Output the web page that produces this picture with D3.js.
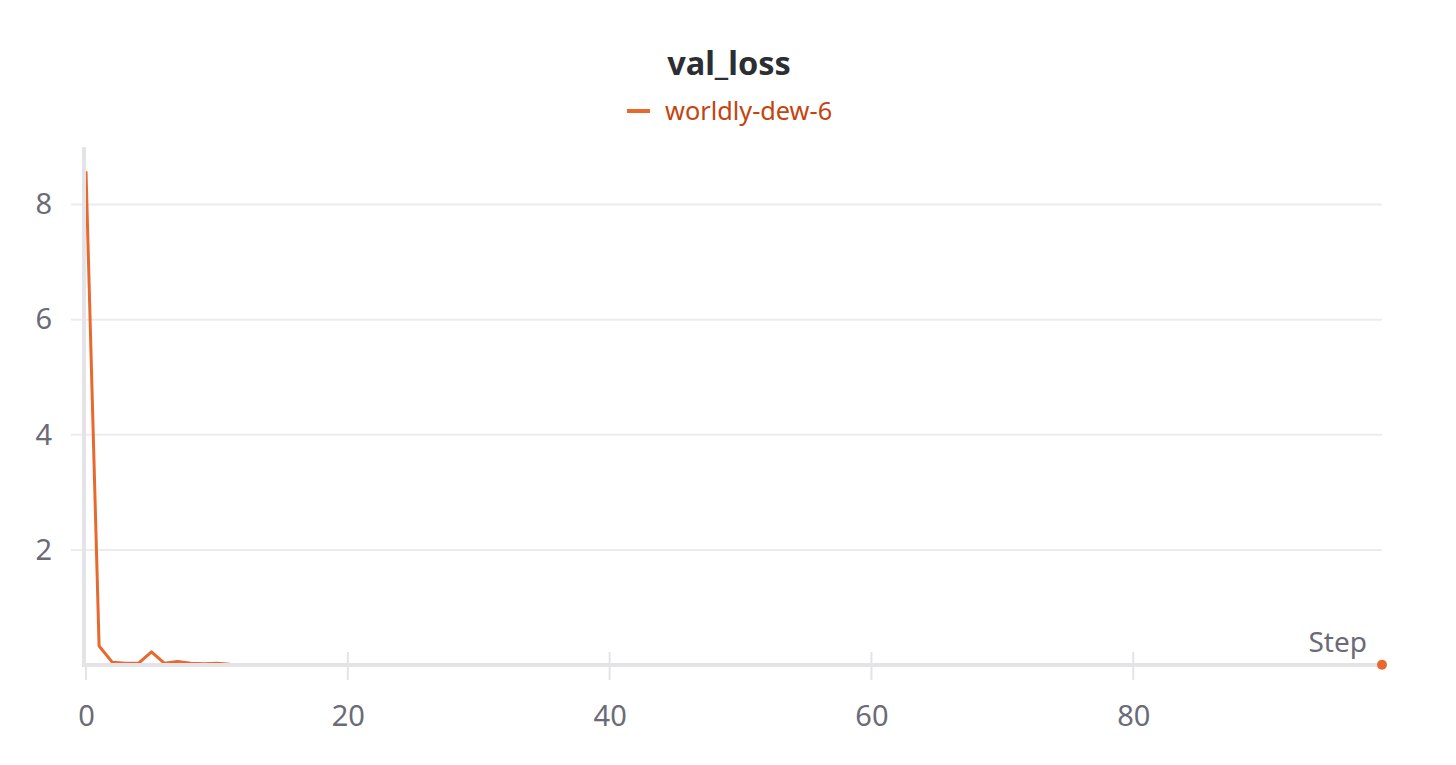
<!DOCTYPE html>
<html><head><meta charset="utf-8">
<script src="https://cdn.jsdelivr.net/npm/d3@7"></script>
<style>
html,body{margin:0;padding:0;background:#fff;}
svg{display:block;font-family:"Noto Sans","Lato",sans-serif;}
</style></head>
<body>
<svg id="chart" width="1456" height="765"></svg>
<script>
const title = "val_loss";
const seriesName = "worldly-dew-6";
const valLoss = [
 8.58, 0.33, 0.05, 0.03, 0.03, 0.23, 0.03, 0.06, 0.03, 0.02,
 0.03, 0.015, 0.008, 0.008, 0.007, 0.007, 0.007, 0.007, 0.006, 0.006,
 0.006, 0.006, 0.006, 0.006, 0.006, 0.006, 0.008, 0.005, 0.005, 0.005,
 0.005, 0.007, 0.005, 0.005, 0.005, 0.005, 0.005, 0.005, 0.005, 0.005,
 0.005, 0.005, 0.004, 0.004, 0.004, 0.004, 0.004, 0.004, 0.004, 0.004,
 0.004, 0.004, 0.004, 0.004, 0.004, 0.004, 0.004, 0.004, 0.004, 0.004,
 0.004, 0.004, 0.005, 0.004, 0.003, 0.003, 0.003, 0.004, 0.003, 0.003,
 0.003, 0.003, 0.003, 0.003, 0.003, 0.003, 0.003, 0.003, 0.003, 0.003,
 0.003, 0.003, 0.004, 0.003, 0.003, 0.003, 0.003, 0.003, 0.003, 0.003,
 0.003, 0.003, 0.003, 0.003, 0.003, 0.003, 0.003, 0.003, 0.003, 0.003
];
const xTicks = [0, 20, 40, 60, 80];
const yTicks = [2, 4, 6, 8];
const xAxisLabel = "Step";

const svg = d3.select("#chart");
const x = d3.scaleLinear().domain([0, 99]).range([86, 1382]);
const y = d3.scaleLinear().domain([0, 9]).range([665, 147]);
const lineColor = "#e8692d";
const axisColor = "#e4e4e8";
const gridColor = "#ececef";
const tickTextColor = "#6b6b78";
const fontFam = "'Noto Sans',Lato,sans-serif";

// title
svg.append("text").attr("x", 729).attr("y", 75).attr("text-anchor", "middle")
  .attr("font-size", 32.5).attr("font-weight", 700).attr("fill", "#2b2f33").text(title);
// legend
svg.append("line").attr("x1", 627).attr("x2", 650).attr("y1", 111).attr("y2", 111)
  .attr("stroke", lineColor).attr("stroke-width", 4);
svg.append("text").attr("x", 665).attr("y", 120).attr("font-size", 25.3)
  .attr("fill", "#c4440f").text(seriesName);

// y grid + ticks
const yAxis = d3.axisLeft(y).tickValues(yTicks).tickSize(0).tickPadding(32).tickFormat(d3.format("d"));
const gy = svg.append("g").attr("transform", "translate(84,0)").call(yAxis);
gy.select(".domain").remove();
gy.selectAll("text").attr("font-size", 29).attr("fill", tickTextColor).attr("font-family", fontFam);
svg.append("g").selectAll("line").data(yTicks).join("line")
  .attr("x1", 71).attr("x2", x(99)).attr("y1", d => y(d)).attr("y2", d => y(d))
  .attr("stroke", gridColor).attr("stroke-width", 2);

// x ticks
const xAxis = d3.axisBottom(x).tickValues(xTicks).tickSize(0).tickPadding(40).tickFormat(d3.format("d"));
const gx = svg.append("g").attr("transform", "translate(0,665)").call(xAxis);
gx.select(".domain").remove();
gx.selectAll("text").attr("font-size", 29).attr("fill", tickTextColor).attr("font-family", fontFam);

// data line
const line = d3.line().x((d, i) => x(i)).y(d => y(d));
svg.append("path").datum(valLoss).attr("d", line).attr("fill", "none")
  .attr("stroke", lineColor).attr("stroke-width", 3).attr("stroke-linejoin", "round");

// axis lines on top
svg.append("line").attr("x1", 84).attr("x2", 84).attr("y1", 147).attr("y2", 667)
  .attr("stroke", axisColor).attr("stroke-width", 4);
svg.append("line").attr("x1", 82).attr("x2", x(99)).attr("y1", 665).attr("y2", 665)
  .attr("stroke", axisColor).attr("stroke-width", 4);
svg.append("g").selectAll("line").data(xTicks).join("line")
  .attr("x1", d => x(d)).attr("x2", d => x(d)).attr("y1", d => d === 0 ? 665 : 652).attr("y2", 680)
  .attr("stroke", axisColor).attr("stroke-width", 2);

// end dot
svg.append("circle").attr("cx", x(99)).attr("cy", y(valLoss[99])).attr("r", 5).attr("fill", lineColor);

// x axis label
svg.append("text").attr("x", 1367).attr("y", 652).attr("text-anchor", "end")
  .attr("font-size", 28).attr("fill", tickTextColor).text(xAxisLabel);
</script>
</body></html>
